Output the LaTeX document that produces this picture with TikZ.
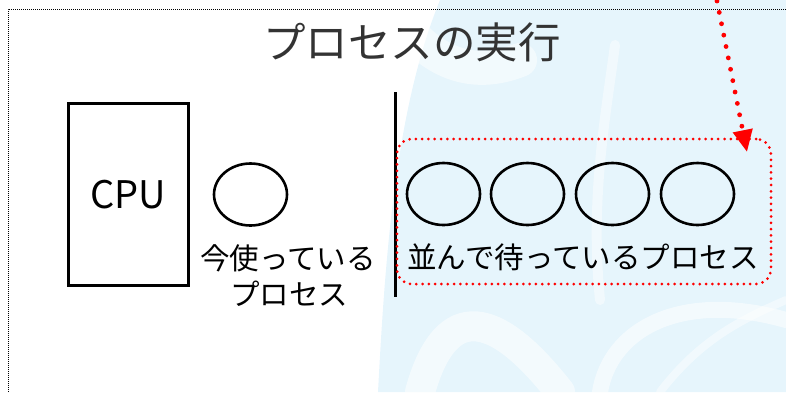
\documentclass[tikz,border=0pt]{standalone}
\usepackage{fontspec}
\newfontfamily\jp{Noto Sans CJK JP}
\usetikzlibrary{arrows.meta,shapes.geometric}
\definecolor{wm}{HTML}{E6F5FC}
\definecolor{titlegray}{HTML}{333333}
\tikzset{
  proc/.style={draw=black, line width=2.6pt, ellipse, minimum width=73pt, minimum height=62pt, inner sep=0pt},
  lbl/.style={font=\jp\fontsize{29.5}{32}\selectfont, inner sep=0pt, text=black},
  swoosh/.style={draw=white, opacity=0.55, line cap=round},
}
\begin{document}
\begin{tikzpicture}[x=1pt,y=-1pt]
\useasboundingbox (0,0) rectangle (786,392);
% watermark background
\fill[wm] (440,0) -- (786,0) -- (786,392) -- (378,392) .. controls (385,260) and (395,110) .. (440,0) -- cycle;
\draw[swoosh, line width=30pt] (420,392) .. controls (440,320) and (480,290) .. (560,392);
\draw[swoosh, line width=16pt] (600,392) .. controls (610,330) and (680,290) .. (786,320);
\draw[swoosh, line width=10pt, opacity=0.45] (615,45) .. controls (605,120) and (590,200) .. (600,300);
\draw[swoosh, line width=34pt, opacity=0.5] (400,20) .. controls (430,60) and (470,80) .. (520,60);
\draw[swoosh, line width=8pt, opacity=0.45] (660,392) .. controls (700,340) and (740,320) .. (786,300);
% frame
\draw[black, line width=0.8pt, dash pattern=on 1pt off 1pt] (8,392) -- (8,9) -- (786,9);
% title
\node[font=\jp\fontsize{42.5}{45}\selectfont, text=titlegray, inner sep=0pt] (title) at (412,42.5) {プロセスの実行};
% CPU
\node[draw=black, line width=3pt, minimum width=120pt, minimum height=182pt, inner sep=0pt,
      font=\jp\fontsize{38}{40}\selectfont] (cpu) at (128,194.5) {CPU};
% current process
\node[proc] (cur) at (250.5,194.5) {};
\node[lbl] (curl1) at (288,258.5) {今使っている};
\node[lbl] (curl2) at (289,293.5) {プロセス};
% separator
\coordinate (septop) at (395,92);
\coordinate (sepbot) at (395,297);
\draw[black, line width=3pt] (septop) -- (sepbot);
% queue
\node[proc] (q1) at (443.5,194) {};
\node[proc] (q2) at (527.5,194) {};
\node[proc] (q3) at (612.5,194) {};
\node[proc] (q4) at (697.5,194) {};
\node[lbl] (ql) at (583,257) {並んで待っているプロセス};
\node[draw=red, line width=3pt, dash pattern=on 0pt off 6.3pt, line cap=round,
      rounded corners=15pt, minimum width=374pt, minimum height=145pt, inner sep=0pt] (queue) at (584,211.5) {};
% incoming arrow
\coordinate (arrstart) at (717,1);
\coordinate (arrend) at (747,152);
\draw[red, line width=4.8pt, dash pattern=on 0pt off 11.6pt, line cap=round,
      -{Triangle[length=22pt,width=19pt,line cap=butt]}] (arrstart) -- (arrend);
\end{tikzpicture}
\end{document}
